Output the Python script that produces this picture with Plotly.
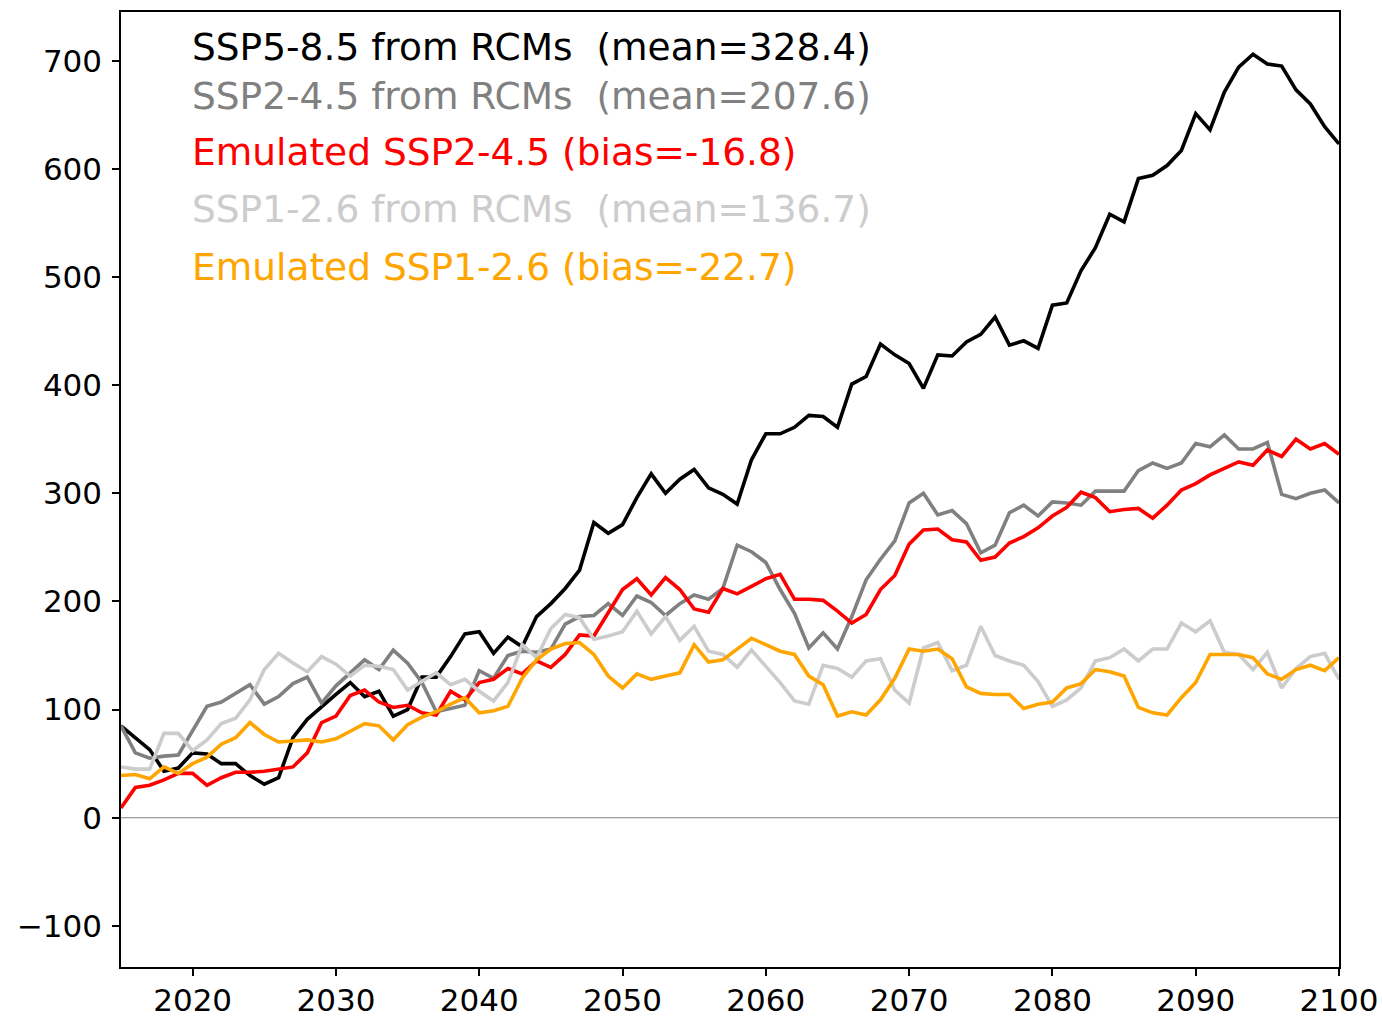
import plotly.graph_objects as go

years = list(range(2015, 2101))

ssp585_rcm = [85, 74, 63, 43, 46, 60, 59, 50, 50, 39,
              31, 37, 74, 91, 103, 114, 125, 112, 117, 94,
              100, 130, 130, 149, 170, 172, 152, 167, 158, 186,
              198, 212, 229, 273, 263, 271, 296, 318, 300, 313,
              322, 305, 299, 290, 331, 355, 355, 361, 372, 371,
              361, 401, 408, 438, 428, 420, 397, 428, 427, 440,
              447, 463, 437, 441, 434, 474, 476, 506, 527, 558,
              551, 591, 594, 603, 617, 651, 636, 671, 694, 706,
              697, 695, 673, 660, 639, 623]

ssp245_rcm = [85, 60, 55, 57, 58, 81, 103, 107, 115, 123,
              105, 112, 124, 130, 106, 122, 134, 146, 137, 155,
              143, 125, 98, 101, 104, 136, 129, 150, 154, 153,
              156, 179, 186, 187, 198, 187, 205, 199, 187, 198,
              206, 202, 212, 252, 246, 236, 211, 189, 157, 171,
              156, 186, 220, 239, 256, 291, 300, 280, 284, 272,
              245, 252, 282, 289, 279, 292, 291, 289, 302, 302,
              302, 321, 328, 323, 328, 346, 343, 354, 341, 341,
              347, 299, 295, 300, 303, 291]

ssp245_emu = [9, 28, 30, 35, 41, 41, 30, 37, 42, 42,
              43, 45, 47, 60, 88, 94, 113, 118, 107, 102,
              104, 97, 95, 117, 109, 125, 128, 138, 133, 145,
              139, 151, 169, 168, 189, 211, 221, 206, 222, 211,
              193, 190, 212, 207, 214, 221, 225, 202, 202, 201,
              191, 180, 188, 211, 224, 253, 266, 267, 257, 255,
              238, 241, 254, 260, 268, 279, 287, 301, 296, 283,
              285, 286, 277, 289, 303, 309, 317, 323, 329, 326,
              340, 334, 350, 341, 346, 336]

ssp126_rcm = [47, 45, 45, 78, 78, 62, 72, 87, 92, 109,
              137, 152, 143, 135, 149, 142, 131, 141, 140, 137,
              118, 126, 134, 123, 128, 117, 108, 125, 160, 148,
              175, 188, 185, 165, 168, 172, 191, 170, 186, 164,
              177, 154, 151, 139, 155, 140, 125, 108, 105, 141,
              138, 130, 145, 147, 118, 106, 157, 162, 136, 141,
              177, 150, 145, 141, 126, 103, 109, 120, 145, 148,
              156, 145, 156, 156, 180, 172, 182, 153, 151, 137,
              153, 120, 138, 149, 152, 128]

ssp126_emu = [39, 40, 36, 47, 41, 50, 56, 68, 74, 88,
              77, 70, 71, 72, 70, 73, 80, 87, 85, 72,
              86, 93, 98, 105, 111, 97, 99, 103, 129, 146,
              156, 161, 162, 151, 131, 120, 133, 128, 131, 134,
              160, 144, 146, 156, 166, 160, 154, 151, 131, 123,
              94, 98, 95, 109, 129, 156, 154, 156, 147, 121,
              115, 114, 114, 101, 105, 107, 120, 124, 137, 135,
              131, 102, 97, 95, 111, 125, 151, 151, 151, 148,
              133, 128, 137, 141, 136, 148]

labels = ["SSP5-8.5 from RCMs\u00a0 (mean=328.4)",
          "SSP2-4.5 from RCMs\u00a0 (mean=207.6)",
          "Emulated SSP2-4.5 (bias=-16.8)",
          "SSP1-2.6 from RCMs\u00a0 (mean=136.7)",
          "Emulated SSP1-2.6 (bias=-22.7)"]
series = [ssp585_rcm, ssp245_rcm, ssp245_emu, ssp126_rcm, ssp126_emu]
colors = ["#000000", "#808080", "#ff0000", "#cccccc", "#ffa500"]
label_y = [47, 96, 152, 209, 267]  # text centers, pixels from top

W, H = 1382, 1020
ml, mt, mr, mb = 121, 12, W - 1339, H - 967

fig = go.Figure()
fig.add_trace(go.Scatter(x=[2015, 2100], y=[0, 0], mode="lines",
                         line=dict(color="#808080", width=1), showlegend=False,
                         hoverinfo="skip"))
for s, c, lab in zip(series, colors, labels):
    fig.add_trace(go.Scatter(x=years, y=s, mode="lines", name=lab,
                             line=dict(color=c, width=3.6), showlegend=False))

pw = W - ml - mr
ph = H - mt - mb
for lab, c, yp in zip(labels, colors, label_y):
    fig.add_annotation(text=lab, xref="paper", yref="paper",
                       x=(190 - ml) / pw, y=1 - (yp - mt) / ph,
                       xanchor="left", yanchor="middle", showarrow=False,
                       font=dict(size=37.5, color=c, family="DejaVu Sans"))

axis_common = dict(showline=True, linecolor="black", linewidth=1.5, mirror=True,
                   ticks="outside", ticklen=7, tickwidth=1.5, tickcolor="black",
                   showgrid=False, zeroline=False, automargin=False,
                   ticklabeloverflow="allow",
                   tickfont=dict(size=31, color="black", family="DejaVu Sans"))
fig.update_xaxes(range=[2015, 2100], tickmode="array",
                 tickvals=list(range(2020, 2101, 10)),
                 ticklabelstandoff=-2, **axis_common)
fig.update_yaxes(range=[-138, 745], tickmode="array",
                 tickvals=list(range(-100, 701, 100)),
                 ticktext=["\u2212100"] + [str(v) for v in range(0, 701, 100)],
                 ticklabelstandoff=4,
                 **axis_common)
fig.update_layout(width=W, height=H, margin=dict(l=ml, r=mr, t=mt, b=mb),
                  plot_bgcolor="white", paper_bgcolor="white",
                  font=dict(family="DejaVu Sans"))
fig.write_html("out.html",
               config={"displayModeBar": False},
               post_script="document.body.style.margin='0px';"
                           "document.body.style.overflow='hidden';")
